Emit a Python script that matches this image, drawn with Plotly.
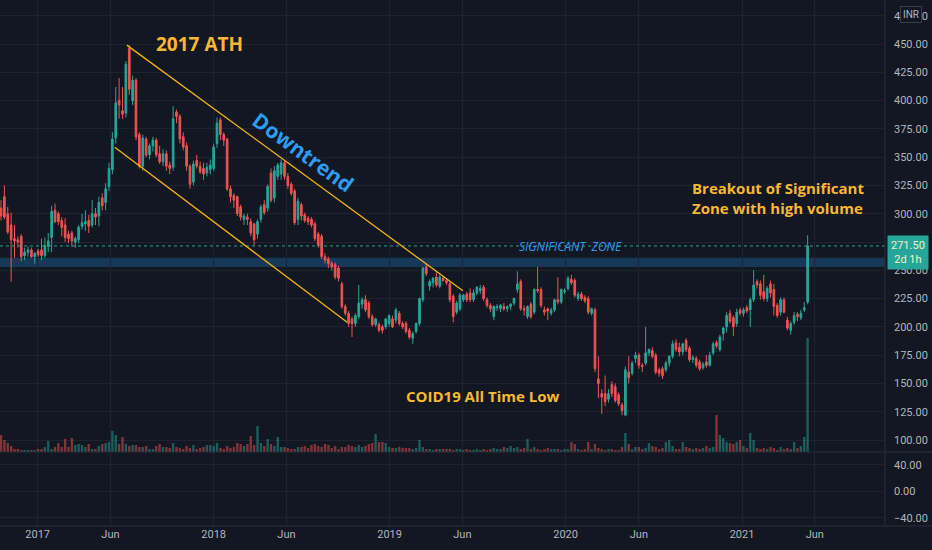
import pandas as pd
import plotly.graph_objects as go

# ---------------- data (weekly candles, INR) ----------------
weeks = pd.date_range("2016-10-17", periods=240, freq="7D")

opens = [305, 315, 300, 290, 278, 277, 280, 263, 266, 268,
         262, 267, 268, 263, 271, 279, 303, 300, 294, 290,
         282, 283, 275, 277, 289, 291, 294, 290, 300, 298,
         314, 310, 324, 339, 367, 400, 391, 389, 446, 400,
         418, 370, 342, 366, 352, 360, 365, 353, 346, 353,
         343, 341, 390, 386, 368, 360, 342, 328, 347, 342,
         340, 336, 339, 340, 362, 383, 370, 366, 322, 316,
         315, 306, 295, 297, 293, 291, 282, 295, 308, 305,
         336, 314, 333, 335, 345, 333, 326, 320, 295, 308,
         299, 296, 295, 291, 282, 280, 262, 260, 256, 255,
         252, 238, 218, 212, 207, 203, 209, 220, 224, 221,
         209, 202, 202, 200, 200, 203, 207, 206, 212, 203,
         203, 197, 190, 196, 203, 224, 253, 236, 239, 244,
         236, 243, 241, 238, 227, 213, 216, 224, 229, 230,
         224, 230, 232, 235, 224, 219, 209, 217, 216, 218,
         216, 218, 221, 233, 240, 216, 209, 220, 213, 233,
         233, 215, 216, 212, 215, 224, 222, 231, 234, 242,
         241, 225, 229, 226, 225, 212, 215, 154, 141, 141,
         136, 149, 147, 140, 131, 122, 160, 159, 172, 175,
         166, 168, 177, 179, 175, 162, 163, 162, 168, 174,
         186, 182, 178, 188, 181, 171, 172, 169, 164, 169,
         166, 177, 186, 180, 194, 200, 212, 208, 203, 215,
         212, 217, 215, 224, 240, 238, 231, 225, 238, 233,
         219, 213, 224, 206, 197, 204, 211, 208, 215, 222]

highs = [312, 325, 306, 301, 290, 280, 282, 270, 271, 270,
         266, 269, 278, 279, 283, 307, 309, 302, 297, 296,
         285, 285, 280, 290, 300, 303, 299, 312, 305, 315,
         318, 327, 345, 372, 412, 420, 412, 435, 449, 422,
         420, 372, 370, 368, 362, 368, 367, 360, 357, 356,
         346, 395, 392, 388, 372, 363, 344, 347, 352, 346,
         345, 345, 348, 362, 385, 385, 372, 367, 325, 318,
         316, 308, 300, 300, 296, 292, 295, 308, 312, 326,
         340, 342, 345, 348, 347, 336, 328, 322, 314, 310,
         301, 298, 297, 293, 284, 282, 265, 262, 258, 257,
         254, 240, 220, 214, 209, 212, 237, 226, 228, 223,
         211, 208, 204, 202, 208, 211, 210, 217, 214, 205,
         205, 199, 196, 204, 226, 253, 256, 242, 244, 248,
         246, 245, 243, 240, 229, 223, 230, 229, 231, 234,
         233, 236, 237, 237, 226, 221, 219, 220, 220, 221,
         219, 221, 226, 249, 242, 219, 219, 222, 234, 253,
         235, 218, 217, 217, 225, 244, 234, 234, 245, 246,
         243, 231, 231, 228, 227, 217, 217, 174, 145, 157,
         145, 152, 150, 142, 133, 165, 174, 170, 178, 177,
         168, 200, 181, 182, 177, 164, 165, 170, 175, 188,
         189, 186, 186, 190, 183, 175, 174, 171, 169, 175,
         178, 187, 188, 193, 200, 213, 215, 210, 216, 217,
         217, 219, 226, 250, 242, 241, 246, 236, 241, 238,
         221, 226, 226, 209, 205, 213, 213, 215, 222, 281]

lows = [294, 295, 282, 240, 261, 270, 258, 259, 262, 261,
        256, 262, 259, 261, 266, 266, 292, 290, 280, 275,
        274, 271, 270, 274, 286, 285, 283, 288, 290, 289,
        303, 303, 320, 335, 362, 384, 384, 385, 405, 396,
        365, 340, 338, 350, 348, 355, 350, 344, 342, 338,
        335, 338, 380, 362, 356, 338, 322, 325, 340, 335,
        330, 333, 335, 338, 358, 365, 360, 320, 310, 305,
        298, 294, 290, 290, 280, 272, 278, 292, 299, 302,
        310, 310, 330, 330, 330, 322, 316, 290, 290, 294,
        292, 290, 288, 276, 270, 260, 256, 252, 250, 242,
        240, 216, 210, 200, 191, 200, 207, 216, 213, 207,
        200, 200, 195, 194, 198, 200, 199, 203, 201, 198,
        194, 189, 185, 194, 201, 222, 245, 232, 235, 235,
        234, 240, 237, 222, 204, 211, 214, 222, 222, 222,
        222, 228, 229, 223, 217, 213, 206, 214, 213, 214,
        213, 215, 219, 230, 214, 210, 207, 207, 211, 230,
        217, 210, 206, 210, 213, 220, 220, 229, 232, 237,
        226, 223, 223, 221, 211, 210, 160, 137, 123, 130,
        133, 138, 133, 130, 122, 121, 150, 157, 168, 163,
        160, 166, 174, 172, 158, 156, 154, 160, 165, 172,
        178, 174, 175, 178, 169, 168, 164, 161, 162, 164,
        165, 175, 181, 178, 188, 195, 203, 192, 200, 210,
        209, 212, 200, 222, 234, 224, 223, 222, 226, 210,
        208, 210, 212, 197, 193, 202, 205, 206, 213, 220]

closes = [298, 297, 284, 277, 276, 275, 262, 266, 268, 262,
          265, 264, 263, 272, 276, 302, 293, 293, 288, 279,
          278, 276, 278, 288, 292, 293, 289, 300, 297, 310,
          307, 322, 340, 366, 398, 396, 388, 432, 410, 418,
          368, 342, 367, 352, 360, 365, 352, 346, 353, 342,
          340, 384, 386, 366, 359, 342, 326, 344, 342, 337,
          335, 341, 343, 359, 380, 370, 365, 322, 315, 312,
          300, 297, 298, 295, 283, 277, 293, 306, 301, 324,
          312, 338, 343, 345, 333, 325, 318, 292, 311, 298,
          294, 293, 290, 278, 272, 262, 259, 256, 253, 244,
          243, 218, 212, 203, 203, 210, 221, 224, 215, 209,
          202, 207, 197, 197, 207, 210, 200, 215, 203, 200,
          196, 191, 194, 203, 225, 252, 247, 240, 243, 237,
          244, 241, 239, 224, 209, 221, 228, 228, 224, 224,
          230, 235, 234, 225, 219, 216, 218, 218, 219, 216,
          218, 220, 225, 238, 216, 215, 218, 209, 233, 232,
          219, 213, 214, 215, 224, 222, 233, 232, 243, 239,
          228, 229, 225, 223, 213, 216, 163, 150, 138, 134,
          141, 141, 135, 132, 126, 162, 155, 168, 175, 166,
          165, 177, 180, 174, 160, 159, 157, 168, 174, 185,
          180, 178, 185, 180, 171, 173, 166, 163, 167, 166,
          175, 185, 183, 191, 199, 210, 205, 200, 213, 212,
          215, 214, 224, 237, 237, 228, 225, 234, 230, 218,
          210, 224, 213, 199, 203, 210, 209, 212, 217, 271.5]

volumes = [17, 12, 9, 6, 3, 3, 2, 2, 2, 2,
           2, 3, 3, 5, 11, 3, 5, 9, 5, 13,
           5, 14, 7, 8, 7, 5, 8, 3, 3, 6,
           8, 9, 10, 21, 17, 8, 15, 8, 6, 7,
           7, 5, 5, 6, 3, 3, 6, 8, 5, 5,
           4, 9, 5, 4, 3, 6, 4, 7, 3, 4,
           5, 7, 7, 6, 9, 4, 3, 6, 4, 5,
           9, 8, 6, 8, 16, 7, 26, 9, 6, 13,
           8, 6, 15, 5, 5, 4, 3, 3, 5, 5,
           6, 4, 7, 8, 6, 5, 8, 7, 4, 6,
           3, 5, 5, 7, 6, 5, 7, 5, 6, 8,
           9, 18, 10, 10, 9, 5, 4, 4, 5, 4,
           4, 4, 3, 4, 12, 5, 3, 3, 2, 3,
           3, 3, 3, 3, 2, 3, 3, 2, 3, 2,
           2, 3, 2, 3, 2, 3, 4, 3, 3, 5,
           4, 6, 4, 5, 3, 4, 13, 3, 5, 3,
           2, 3, 4, 3, 3, 3, 2, 3, 3, 10,
           8, 3, 2, 3, 10, 3, 8, 4, 3, 2,
           3, 3, 2, 2, 5, 19, 8, 3, 5, 5,
           3, 4, 9, 6, 5, 3, 4, 10, 12, 6,
           3, 3, 10, 5, 4, 3, 4, 3, 4, 6,
           4, 5, 37, 17, 14, 10, 9, 8, 10, 12,
           6, 4, 19, 12, 4, 3, 4, 3, 5, 4,
           2, 5, 3, 4, 3, 10, 4, 6, 15, 114]

price_ticks = [100, 125, 150, 175, 200, 225, 250, 275, 300, 325, 350, 375, 400, 425, 450, 475]
osc_ticks = [40, 0, -40]
osc_tick_text = ["40.00", "0.00", "\u221240.00"]
date_ticks = ["2017-01-01", "2017-06-01", "2018-01-01", "2018-06-01", "2019-01-01",
              "2019-06-01", "2020-01-01", "2020-06-01", "2021-01-01", "2021-06-01"]
date_tick_text = ["2017", "Jun", "2018", "Jun", "2019", "Jun", "2020", "Jun", "2021", "Jun"]

last_price = 271.5
zone_low, zone_high = 253, 261
upper_channel = [("2017-07-05", 449), ("2019-06-02", 232)]
lower_channel = [("2017-06-10", 358.7), ("2018-10-05", 204)]

# ---------------- styling ----------------
BG = "#131722"
GRID = "#1f2330"
SEP = "#2a2e39"
TXT = "#b2b5be"
UP = "#26a69a"
DN = "#ef5350"
YEL = "#f7b731"
BLUE = "#2a9df4"

W, H = 932, 550
PR, PB = 885, 526  # plot area right / bottom in px


def px(x, y):
    return x / PR, 1 - y / PB


up_flags = [c >= o for o, c in zip(opens, closes)]
vol_colors = ["rgba(38,166,154,0.5)" if u else "rgba(239,83,80,0.5)" for u in up_flags]

fig = go.Figure()
fig.add_trace(go.Candlestick(
    x=weeks, open=opens, high=highs, low=lows, close=closes,
    increasing=dict(line=dict(color=UP, width=1), fillcolor=UP),
    decreasing=dict(line=dict(color=DN, width=1), fillcolor=DN),
    whiskerwidth=0, xaxis="x", yaxis="y", showlegend=False, hoverinfo="skip"))
fig.add_trace(go.Bar(
    x=weeks, y=volumes, marker=dict(color=vol_colors, line=dict(width=0)),
    xaxis="x", yaxis="y3", showlegend=False, hoverinfo="skip"))
fig.add_trace(go.Scatter(x=[weeks[0]], y=[0], mode="none", xaxis="x2", yaxis="y2",
                         showlegend=False, hoverinfo="skip"))

x_range = ["2016-10-14 22:00", "2021-10-24 12:00"]
main_dom = [1 - 452 / PB, 1]
osc_dom = [0, 1 - 452 / PB]

xcommon = dict(type="date", range=x_range, tickvals=date_ticks, ticktext=date_tick_text,
               showgrid=True, gridcolor=GRID, gridwidth=1, zeroline=False, showline=False,
               ticks="", tickfont=dict(family="Roboto", size=11, color=TXT))

shapes = [
    dict(type="rect", xref="paper", yref="y", x0=0, x1=1, y0=zone_low, y1=zone_high,
         fillcolor="rgba(33,150,243,0.26)", line=dict(width=0), layer="below"),
    dict(type="line", xref="paper", yref="y", x0=0, x1=1, y0=last_price, y1=last_price,
         line=dict(color=UP, width=1, dash="dot")),
    dict(type="line", xref="x", yref="y", x0=upper_channel[0][0], y0=upper_channel[0][1],
         x1=upper_channel[1][0], y1=upper_channel[1][1], line=dict(color="#f5b50f", width=1.3)),
    dict(type="line", xref="x", yref="y", x0=lower_channel[0][0], y0=lower_channel[0][1],
         x1=lower_channel[1][0], y1=lower_channel[1][1], line=dict(color="#f5b50f", width=1.3)),
    # pane separators
    dict(type="line", xref="paper", yref="paper", x0=0, x1=W / PR, y0=px(0, 452)[1], y1=px(0, 452)[1],
         line=dict(color=SEP, width=1)),
    dict(type="line", xref="paper", yref="paper", x0=0, x1=W / PR, y0=0, y1=0,
         line=dict(color=SEP, width=1)),
    dict(type="line", xref="paper", yref="paper", x0=1, x1=1, y0=0, y1=1,
         line=dict(color=SEP, width=1)),
]

ann_font = "Open Sans"
annotations = []


def add_text(text, x, y, size, color, bold=True, angle=0, italic=False, xanchor="center", align="center"):
    xp, yp = px(x, y)
    t = text
    if bold:
        t = "<b>" + t + "</b>"
    if italic:
        t = "<i>" + t + "</i>"
    annotations.append(dict(text=t, xref="paper", yref="paper", x=xp, y=yp, showarrow=False,
                            xanchor=xanchor, yanchor="middle", align=align, textangle=angle,
                            font=dict(family=ann_font, size=size, color=color)))


add_text("2017 ATH", 199, 44, 19, YEL)
add_text("Downtrend", 303, 152, 21, BLUE, angle=36)
add_text("SIGNIFICANT&nbsp;&nbsp;ZONE", 570, 246, 12, BLUE, bold=False, italic=True)
add_text("COID19 All Time Low", 483, 396, 15, YEL)
add_text("Breakout of Significant<br>Zone with high volume", 690, 198, 15, YEL,
         xanchor="left", align="left")

# last price label
lx, ly = px(908, 252)
annotations.append(dict(text="271.50<br>2d 1h", xref="paper", yref="paper", x=lx, y=ly,
                        showarrow=False, xanchor="center", yanchor="middle", align="center",
                        bgcolor=UP, borderpad=3, font=dict(family="Roboto", size=11, color="#f4efc4")))
# currency badge
ix, iy = px(911, 14)
annotations.append(dict(text="INR", xref="paper", yref="paper", x=ix, y=iy, showarrow=False,
                        xanchor="center", yanchor="middle", bgcolor=BG, bordercolor="#3a3e4a",
                        borderwidth=1, borderpad=2, font=dict(family="Roboto", size=10, color=TXT)))

fig.update_layout(
    width=W, height=H,
    margin=dict(l=0, r=W - PR, t=0, b=H - PB),
    paper_bgcolor=BG, plot_bgcolor=BG,
    showlegend=False, bargap=0.3, hovermode=False,
    xaxis=dict(**xcommon, domain=[0, 1], anchor="y", showticklabels=False,
               rangeslider=dict(visible=False)),
    xaxis2=dict(**xcommon, domain=[0, 1], anchor="y2", matches="x", showticklabels=True),
    yaxis=dict(domain=main_dom, anchor="x", side="right", range=[89.4, 488.9],
               tickvals=price_ticks, ticktext=["%.2f" % v for v in price_ticks],
               showgrid=True, gridcolor=GRID, zeroline=False, showline=False, ticks="",
               ticklabelstandoff=8, tickfont=dict(family="Roboto", size=11, color=TXT)),
    yaxis3=dict(overlaying="y", range=[0, 452], visible=False, showgrid=False),
    yaxis2=dict(domain=osc_dom, anchor="x2", side="right", range=[-52.1, 59.6],
                tickvals=osc_ticks, ticktext=osc_tick_text,
                showgrid=True, gridcolor=GRID, zeroline=False, showline=False, ticks="",
                ticklabelstandoff=8, tickfont=dict(family="Roboto", size=11, color=TXT)),
    shapes=shapes, annotations=annotations,
)

fig.write_html("out.html")
